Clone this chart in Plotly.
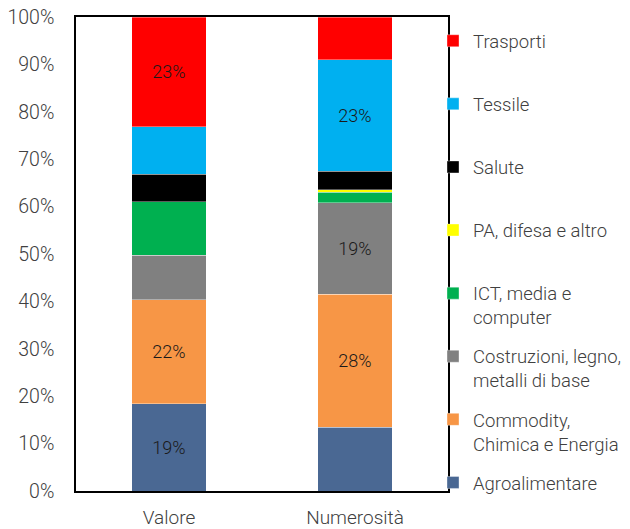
import plotly.graph_objects as go

categories = ["Valore", "Numerosità"]
series_names = [
    "Agroalimentare",
    "Commodity,<br>Chimica e Energia",
    "Costruzioni, legno,<br>metalli di base",
    "ICT, media e<br>computer",
    "PA, difesa e altro",
    "Salute",
    "Tessile",
    "Trasporti",
]
colors = ["#4A6893", "#F79646", "#808080", "#00B050", "#FFFF00", "#000000", "#00B0F0", "#FF0000"]

agroalimentare = [18.4, 13.5]
commodity = [22.0, 28.0]
costruzioni = [9.3, 19.3]
ict = [11.3, 2.2]
pa = [0.0, 0.6]
salute = [5.8, 3.9]
tessile = [10.0, 23.5]
trasporti = [23.2, 9.0]

labels_agro = ["19%", ""]
labels_commodity = ["22%", "28%"]
labels_costruzioni = ["", "19%"]
labels_ict = ["", ""]
labels_pa = ["", ""]
labels_salute = ["", ""]
labels_tessile = ["", "23%"]
labels_trasporti = ["23%", ""]

values = [agroalimentare, commodity, costruzioni, ict, pa, salute, tessile, trasporti]
labels = [labels_agro, labels_commodity, labels_costruzioni, labels_ict,
          labels_pa, labels_salute, labels_tessile, labels_trasporti]

FONT = "Roboto"
TXT = "#404040"

fig = go.Figure()
n = len(series_names)
for i, (name, vals, lab, col) in enumerate(zip(series_names, values, labels, colors)):
    legend_name = name if "<br>" in name else name + "<br> "
    fig.add_trace(go.Bar(
        x=categories, y=vals, name=legend_name,
        marker=dict(color=col, line=dict(color="rgba(255,255,255,0.6)", width=0.6)),
        text=lab, textposition="inside", insidetextanchor="middle",
        textangle=0, constraintext="none",
        textfont=dict(family=FONT, size=18, color="#1a1a1a", weight=300),
        legendgroup=f"g{i}", legendrank=n - i, hoverinfo="skip",
    ))

# page body has an 8px default margin: margins shifted to compensate
fig.update_layout(
    barmode="stack", bargap=0.6,
    width=630, height=529,
    margin=dict(l=68, r=190, t=9, b=46, autoexpand=False),
    plot_bgcolor="white", paper_bgcolor="white",
    font=dict(family=FONT, size=19, color=TXT, weight=300),
    legend=dict(
        traceorder="grouped", tracegroupgap=12,
        x=0.9597, xanchor="left", y=0.989, yanchor="top",
        valign="top", font=dict(family=FONT, size=18.5, color=TXT, weight=300),
        bgcolor="rgba(0,0,0,0)",
    ),
    showlegend=True,
)
fig.update_yaxes(
    range=[0, 100], tickvals=[0, 10, 20, 30, 40, 50, 60, 70, 80, 90, 100],
    ticktext=["0%", "10%", "20%", "30%", "40%", "50%", "60%", "70%", "80%", "90%", "100%"],
    tickfont=dict(size=19.5), ticklabeloverflow="allow",
    showgrid=False, zeroline=False, showline=True, linecolor="black", linewidth=1.5,
    mirror=True, ticks="outside", ticklen=16, tickcolor="rgba(0,0,0,0)",
)
fig.update_xaxes(
    tickfont=dict(size=19), ticklabeloverflow="allow",
    showline=True, linecolor="black", linewidth=2, mirror=True,
    ticks="outside", ticklen=8, tickcolor="rgba(0,0,0,0)",
)

fig.write_html("out.html")
